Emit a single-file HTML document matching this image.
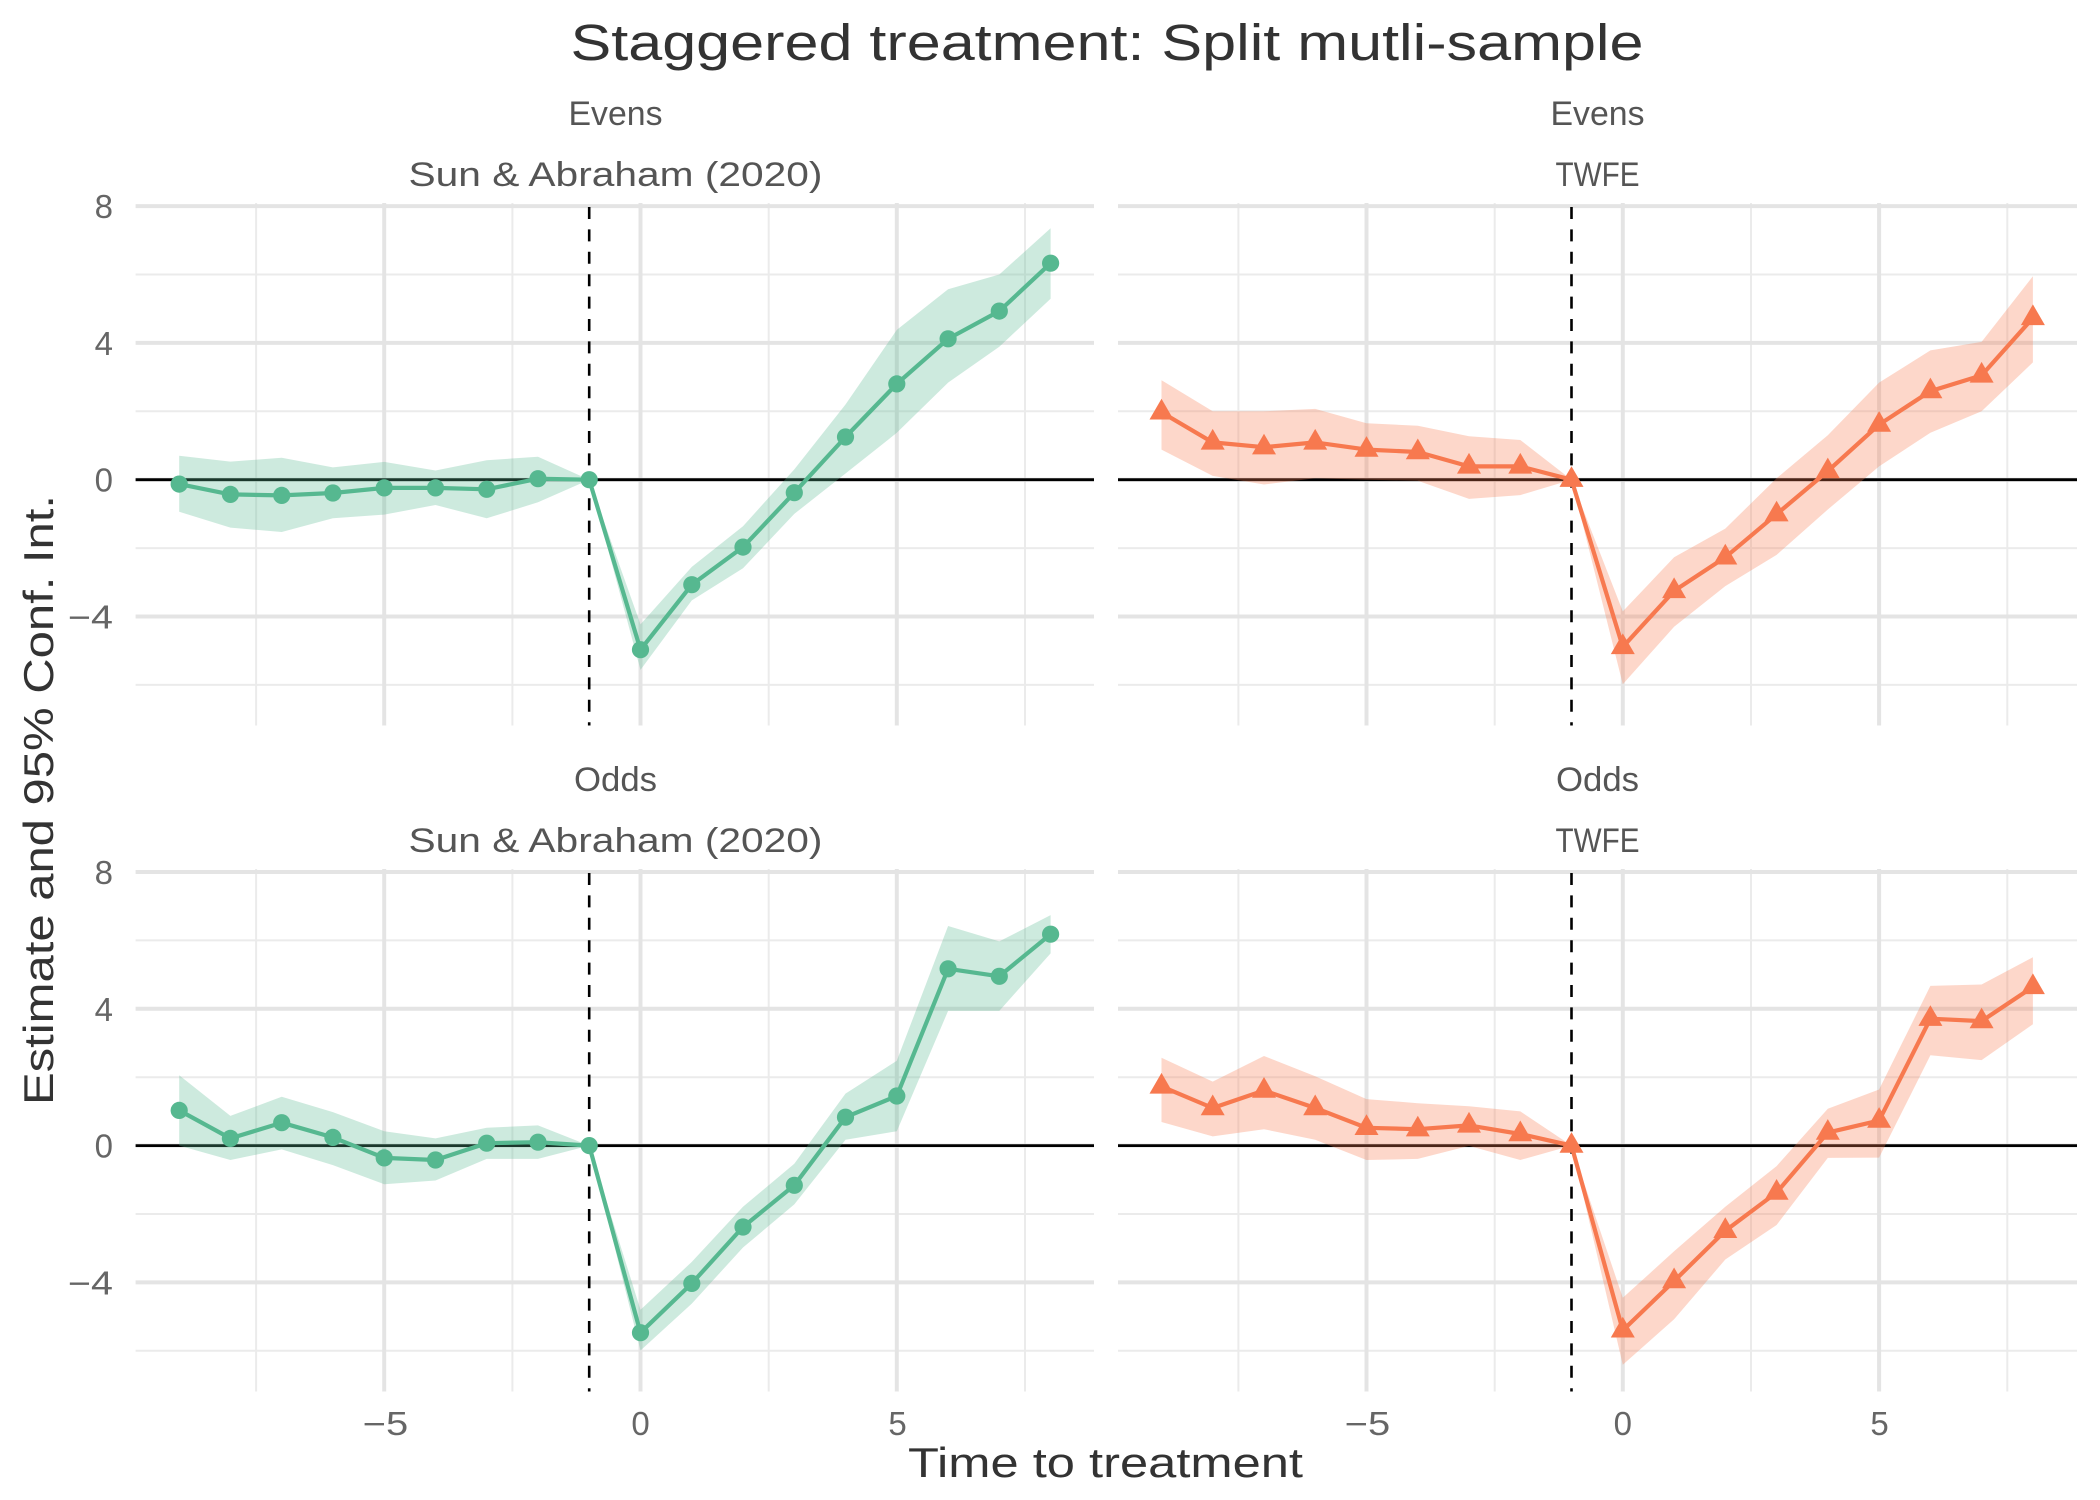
<!DOCTYPE html>
<html>
<head>
<meta charset="utf-8">
<style>
  html, body { margin: 0; padding: 0; background: #ffffff; }
  svg { display: block; }
  text { font-family: "Liberation Sans", "DejaVu Sans", sans-serif; }
</style>
</head>
<body>
<svg width="2100" height="1500" viewBox="0 0 2100 1500" xmlns="http://www.w3.org/2000/svg">
  <defs>
    <path id="tri" d="M0,-13.5 L12,7.2 L-12,7.2 Z"/>
  </defs>
  <rect x="0" y="0" width="2100" height="1500" fill="#ffffff"/>

  <!-- Title -->
  <text x="1107" y="60" font-size="51" fill="#333333" text-anchor="middle" textLength="1073" lengthAdjust="spacingAndGlyphs">Staggered treatment: Split mutli-sample</text>

  <!-- Strip labels -->
  <g font-size="34" fill="#555555" text-anchor="middle">
    <text x="615.5" y="125" textLength="94" lengthAdjust="spacingAndGlyphs">Evens</text>
    <text x="615.5" y="186" textLength="414" lengthAdjust="spacingAndGlyphs">Sun &amp; Abraham (2020)</text>
    <text x="1597.5" y="125" textLength="94" lengthAdjust="spacingAndGlyphs">Evens</text>
    <text x="1597.5" y="186" textLength="84" lengthAdjust="spacingAndGlyphs">TWFE</text>
    <text x="615.5" y="791" textLength="83" lengthAdjust="spacingAndGlyphs">Odds</text>
    <text x="615.5" y="852" textLength="414" lengthAdjust="spacingAndGlyphs">Sun &amp; Abraham (2020)</text>
    <text x="1597.5" y="791" textLength="83" lengthAdjust="spacingAndGlyphs">Odds</text>
    <text x="1597.5" y="852" textLength="84" lengthAdjust="spacingAndGlyphs">TWFE</text>
  </g>

  <!-- Gridlines: minor -->
  <g stroke="#ebebeb" stroke-width="2">
    <line x1="135.6" y1="274.5" x2="1094" y2="274.5"/>
    <line x1="135.6" y1="411.3" x2="1094" y2="411.3"/>
    <line x1="135.6" y1="548.1" x2="1094" y2="548.1"/>
    <line x1="135.6" y1="684.9" x2="1094" y2="684.9"/>
    <line x1="256.1" y1="203" x2="256.1" y2="725.5"/>
    <line x1="512.4" y1="203" x2="512.4" y2="725.5"/>
    <line x1="768.7" y1="203" x2="768.7" y2="725.5"/>
    <line x1="1025.0" y1="203" x2="1025.0" y2="725.5"/>
    <line x1="1118" y1="274.5" x2="2077" y2="274.5"/>
    <line x1="1118" y1="411.3" x2="2077" y2="411.3"/>
    <line x1="1118" y1="548.1" x2="2077" y2="548.1"/>
    <line x1="1118" y1="684.9" x2="2077" y2="684.9"/>
    <line x1="1238.4" y1="203" x2="1238.4" y2="725.5"/>
    <line x1="1494.7" y1="203" x2="1494.7" y2="725.5"/>
    <line x1="1751.0" y1="203" x2="1751.0" y2="725.5"/>
    <line x1="2007.3" y1="203" x2="2007.3" y2="725.5"/>
    <line x1="135.6" y1="940.4" x2="1094" y2="940.4"/>
    <line x1="135.6" y1="1077.2" x2="1094" y2="1077.2"/>
    <line x1="135.6" y1="1214.0" x2="1094" y2="1214.0"/>
    <line x1="135.6" y1="1350.8" x2="1094" y2="1350.8"/>
    <line x1="256.1" y1="869" x2="256.1" y2="1391.5"/>
    <line x1="512.4" y1="869" x2="512.4" y2="1391.5"/>
    <line x1="768.7" y1="869" x2="768.7" y2="1391.5"/>
    <line x1="1025.0" y1="869" x2="1025.0" y2="1391.5"/>
    <line x1="1118" y1="940.4" x2="2077" y2="940.4"/>
    <line x1="1118" y1="1077.2" x2="2077" y2="1077.2"/>
    <line x1="1118" y1="1214.0" x2="2077" y2="1214.0"/>
    <line x1="1118" y1="1350.8" x2="2077" y2="1350.8"/>
    <line x1="1238.4" y1="869" x2="1238.4" y2="1391.5"/>
    <line x1="1494.7" y1="869" x2="1494.7" y2="1391.5"/>
    <line x1="1751.0" y1="869" x2="1751.0" y2="1391.5"/>
    <line x1="2007.3" y1="869" x2="2007.3" y2="1391.5"/>
  </g>

  <!-- Gridlines: major -->
  <g stroke="#e4e4e4" stroke-width="4">
    <line x1="135.6" y1="206.1" x2="1094" y2="206.1"/>
    <line x1="135.6" y1="342.9" x2="1094" y2="342.9"/>
    <line x1="135.6" y1="479.7" x2="1094" y2="479.7"/>
    <line x1="135.6" y1="616.5" x2="1094" y2="616.5"/>
    <line x1="384.2" y1="203" x2="384.2" y2="725.5"/>
    <line x1="640.5" y1="203" x2="640.5" y2="725.5"/>
    <line x1="896.8" y1="203" x2="896.8" y2="725.5"/>
    <line x1="1118" y1="206.1" x2="2077" y2="206.1"/>
    <line x1="1118" y1="342.9" x2="2077" y2="342.9"/>
    <line x1="1118" y1="479.7" x2="2077" y2="479.7"/>
    <line x1="1118" y1="616.5" x2="2077" y2="616.5"/>
    <line x1="1366.5" y1="203" x2="1366.5" y2="725.5"/>
    <line x1="1622.8" y1="203" x2="1622.8" y2="725.5"/>
    <line x1="1879.1" y1="203" x2="1879.1" y2="725.5"/>
    <line x1="135.6" y1="872.0" x2="1094" y2="872.0"/>
    <line x1="135.6" y1="1008.8" x2="1094" y2="1008.8"/>
    <line x1="135.6" y1="1145.6" x2="1094" y2="1145.6"/>
    <line x1="135.6" y1="1282.4" x2="1094" y2="1282.4"/>
    <line x1="384.2" y1="869" x2="384.2" y2="1391.5"/>
    <line x1="640.5" y1="869" x2="640.5" y2="1391.5"/>
    <line x1="896.8" y1="869" x2="896.8" y2="1391.5"/>
    <line x1="1118" y1="872.0" x2="2077" y2="872.0"/>
    <line x1="1118" y1="1008.8" x2="2077" y2="1008.8"/>
    <line x1="1118" y1="1145.6" x2="2077" y2="1145.6"/>
    <line x1="1118" y1="1282.4" x2="2077" y2="1282.4"/>
    <line x1="1366.5" y1="869" x2="1366.5" y2="1391.5"/>
    <line x1="1622.8" y1="869" x2="1622.8" y2="1391.5"/>
    <line x1="1879.1" y1="869" x2="1879.1" y2="1391.5"/>
  </g>

  <!-- Zero lines and dashed treatment lines -->
  <g stroke="#000000" stroke-width="2.8">
    <line x1="135.6" y1="479.7" x2="1094" y2="479.7"/>
    <line x1="1118" y1="479.7" x2="2077" y2="479.7"/>
    <line x1="135.6" y1="1145.6" x2="1094" y2="1145.6"/>
    <line x1="1118" y1="1145.6" x2="2077" y2="1145.6"/>
  </g>
  <g stroke="#000000" stroke-width="2.6" stroke-dasharray="12,10.4">
    <line x1="589.2" y1="207" x2="589.2" y2="725.5"/>
    <line x1="1571.5" y1="207" x2="1571.5" y2="725.5"/>
    <line x1="589.2" y1="873" x2="589.2" y2="1391.5"/>
    <line x1="1571.5" y1="873" x2="1571.5" y2="1391.5"/>
  </g>

  <!-- Ribbons -->
  <polygon fill="#58b992" fill-opacity="0.3" points="179.2,455.8 230.4,461.6 281.7,457.8 332.9,467.4 384.2,461.9 435.5,470.5 486.7,460.2 538.0,456.8 589.2,479.7 640.5,624.4 691.8,566.9 743.0,526.2 794.3,469.4 845.5,404.5 896.8,329.9 948.1,289.2 999.3,274.5 1050.6,228.3 1050.6,298.8 999.3,346.7 948.1,382.6 896.8,432.8 845.5,473.5 794.3,513.9 743.0,568.3 691.8,600.4 640.5,669.9 589.2,479.7 538.0,502.3 486.7,518.3 435.5,505.0 384.2,514.6 332.9,518.3 281.7,532.0 230.4,527.6 179.2,511.8"/>
  <polygon fill="#f77950" fill-opacity="0.3" points="1161.5,380.2 1212.7,411.3 1264.0,411.3 1315.2,408.9 1366.5,423.3 1417.8,425.7 1469.0,436.3 1520.3,440.0 1571.5,479.7 1622.8,611.4 1674.1,557.3 1725.3,528.6 1776.6,478.3 1827.8,435.2 1879.1,382.6 1930.4,350.4 1981.6,341.9 2032.9,276.2 2032.9,362.4 1981.6,411.3 1930.4,432.8 1879.1,466.4 1827.8,509.5 1776.6,554.9 1725.3,586.1 1674.1,626.8 1622.8,684.2 1571.5,479.7 1520.3,495.1 1469.0,498.9 1417.8,480.7 1366.5,479.7 1315.2,478.3 1264.0,484.5 1212.7,475.9 1161.5,449.6"/>
  <polygon fill="#58b992" fill-opacity="0.3" points="179.2,1075.2 230.4,1115.9 281.7,1096.7 332.9,1112.1 384.2,1131.2 435.5,1138.4 486.7,1127.8 538.0,1125.4 589.2,1145.6 640.5,1309.8 691.8,1261.9 743.0,1206.8 794.3,1163.7 845.5,1093.6 896.8,1060.8 948.1,926.0 999.3,941.4 1050.6,915.1 1050.6,953.4 999.3,1010.9 948.1,1010.9 896.8,1131.2 845.5,1139.8 794.3,1204.4 743.0,1247.5 691.8,1303.6 640.5,1350.5 589.2,1145.6 538.0,1158.9 486.7,1158.9 435.5,1180.5 384.2,1184.2 332.9,1165.1 281.7,1149.4 230.4,1160.0 179.2,1145.6"/>
  <polygon fill="#f77950" fill-opacity="0.3" points="1161.5,1057.7 1212.7,1081.6 1264.0,1056.0 1315.2,1076.2 1366.5,1099.1 1417.8,1103.2 1469.0,1106.3 1520.3,1111.4 1571.5,1145.6 1622.8,1297.8 1674.1,1251.3 1725.3,1206.8 1776.6,1166.1 1827.8,1108.7 1879.1,1089.5 1930.4,985.9 1981.6,984.5 2032.9,957.2 2032.9,1024.2 1981.6,1060.1 1930.4,1055.3 1879.1,1157.6 1827.8,1157.9 1776.6,1225.0 1725.3,1259.5 1674.1,1319.3 1622.8,1364.8 1571.5,1145.6 1520.3,1160.0 1469.0,1145.9 1417.8,1158.9 1366.5,1160.0 1315.2,1139.8 1264.0,1129.2 1212.7,1136.4 1161.5,1122.0"/>

  <!-- Lines -->
  <g fill="none" stroke-width="4.2" stroke-linejoin="round" stroke-linecap="round">
    <polyline stroke="#56b890" points="179.2,484.1 230.4,494.4 281.7,495.4 332.9,493.0 384.2,487.9 435.5,487.9 486.7,489.3 538.0,478.7 589.2,479.7 640.5,649.7 691.8,584.7 743.0,547.1 794.3,492.7 845.5,437.0 896.8,383.9 948.1,338.8 999.3,311.1 1050.6,263.2"/>
    <polyline stroke="#f7794f" points="1161.5,412.3 1212.7,442.4 1264.0,447.2 1315.2,442.4 1366.5,449.6 1417.8,452.0 1469.0,466.4 1520.3,466.4 1571.5,479.7 1622.8,646.9 1674.1,590.9 1725.3,557.3 1776.6,514.2 1827.8,471.1 1879.1,424.6 1930.4,391.1 1981.6,375.4 2032.9,317.9"/>
    <polyline stroke="#56b890" points="179.2,1110.4 230.4,1138.4 281.7,1122.7 332.9,1137.4 384.2,1157.9 435.5,1160.0 486.7,1143.2 538.0,1142.2 589.2,1145.6 640.5,1332.7 691.8,1283.4 743.0,1227.0 794.3,1185.3 845.5,1117.2 896.8,1096.0 948.1,968.8 999.3,976.3 1050.6,934.2"/>
    <polyline stroke="#f7794f" points="1161.5,1086.4 1212.7,1108.0 1264.0,1090.5 1315.2,1108.0 1366.5,1127.8 1417.8,1129.2 1469.0,1125.4 1520.3,1134.0 1571.5,1145.6 1622.8,1330.3 1674.1,1281.0 1725.3,1230.8 1776.6,1192.5 1827.8,1132.6 1879.1,1120.6 1930.4,1018.7 1981.6,1021.1 2032.9,986.9"/>
  </g>

  <!-- Circle markers top-left -->
  <g fill="#56b890">
    <circle cx="179.2" cy="484.1" r="8.6"/>
    <circle cx="230.4" cy="494.4" r="8.6"/>
    <circle cx="281.7" cy="495.4" r="8.6"/>
    <circle cx="332.9" cy="493.0" r="8.6"/>
    <circle cx="384.2" cy="487.9" r="8.6"/>
    <circle cx="435.5" cy="487.9" r="8.6"/>
    <circle cx="486.7" cy="489.3" r="8.6"/>
    <circle cx="538.0" cy="478.7" r="8.6"/>
    <circle cx="589.2" cy="479.7" r="8.6"/>
    <circle cx="640.5" cy="649.7" r="8.6"/>
    <circle cx="691.8" cy="584.7" r="8.6"/>
    <circle cx="743.0" cy="547.1" r="8.6"/>
    <circle cx="794.3" cy="492.7" r="8.6"/>
    <circle cx="845.5" cy="437.0" r="8.6"/>
    <circle cx="896.8" cy="383.9" r="8.6"/>
    <circle cx="948.1" cy="338.8" r="8.6"/>
    <circle cx="999.3" cy="311.1" r="8.6"/>
    <circle cx="1050.6" cy="263.2" r="8.6"/>
  </g>
  <!-- Circle markers bottom-left -->
  <g fill="#56b890">
    <circle cx="179.2" cy="1110.4" r="8.6"/>
    <circle cx="230.4" cy="1138.4" r="8.6"/>
    <circle cx="281.7" cy="1122.7" r="8.6"/>
    <circle cx="332.9" cy="1137.4" r="8.6"/>
    <circle cx="384.2" cy="1157.9" r="8.6"/>
    <circle cx="435.5" cy="1160.0" r="8.6"/>
    <circle cx="486.7" cy="1143.2" r="8.6"/>
    <circle cx="538.0" cy="1142.2" r="8.6"/>
    <circle cx="589.2" cy="1145.6" r="8.6"/>
    <circle cx="640.5" cy="1332.7" r="8.6"/>
    <circle cx="691.8" cy="1283.4" r="8.6"/>
    <circle cx="743.0" cy="1227.0" r="8.6"/>
    <circle cx="794.3" cy="1185.3" r="8.6"/>
    <circle cx="845.5" cy="1117.2" r="8.6"/>
    <circle cx="896.8" cy="1096.0" r="8.6"/>
    <circle cx="948.1" cy="968.8" r="8.6"/>
    <circle cx="999.3" cy="976.3" r="8.6"/>
    <circle cx="1050.6" cy="934.2" r="8.6"/>
  </g>

  <!-- Triangle markers top-right -->
  <g fill="#f7794f">
    <use href="#tri" x="1161.5" y="412.3"/>
    <use href="#tri" x="1212.7" y="442.4"/>
    <use href="#tri" x="1264.0" y="447.2"/>
    <use href="#tri" x="1315.2" y="442.4"/>
    <use href="#tri" x="1366.5" y="449.6"/>
    <use href="#tri" x="1417.8" y="452.0"/>
    <use href="#tri" x="1469.0" y="466.4"/>
    <use href="#tri" x="1520.3" y="466.4"/>
    <use href="#tri" x="1571.5" y="479.7"/>
    <use href="#tri" x="1622.8" y="646.9"/>
    <use href="#tri" x="1674.1" y="590.9"/>
    <use href="#tri" x="1725.3" y="557.3"/>
    <use href="#tri" x="1776.6" y="514.2"/>
    <use href="#tri" x="1827.8" y="471.1"/>
    <use href="#tri" x="1879.1" y="424.6"/>
    <use href="#tri" x="1930.4" y="391.1"/>
    <use href="#tri" x="1981.6" y="375.4"/>
    <use href="#tri" x="2032.9" y="317.9"/>
  </g>
  <!-- Triangle markers bottom-right -->
  <g fill="#f7794f">
    <use href="#tri" x="1161.5" y="1086.4"/>
    <use href="#tri" x="1212.7" y="1108.0"/>
    <use href="#tri" x="1264.0" y="1090.5"/>
    <use href="#tri" x="1315.2" y="1108.0"/>
    <use href="#tri" x="1366.5" y="1127.8"/>
    <use href="#tri" x="1417.8" y="1129.2"/>
    <use href="#tri" x="1469.0" y="1125.4"/>
    <use href="#tri" x="1520.3" y="1134.0"/>
    <use href="#tri" x="1571.5" y="1145.6"/>
    <use href="#tri" x="1622.8" y="1330.3"/>
    <use href="#tri" x="1674.1" y="1281.0"/>
    <use href="#tri" x="1725.3" y="1230.8"/>
    <use href="#tri" x="1776.6" y="1192.5"/>
    <use href="#tri" x="1827.8" y="1132.6"/>
    <use href="#tri" x="1879.1" y="1120.6"/>
    <use href="#tri" x="1930.4" y="1018.7"/>
    <use href="#tri" x="1981.6" y="1021.1"/>
    <use href="#tri" x="2032.9" y="986.9"/>
  </g>

  <!-- Y tick labels -->
  <g font-size="33" fill="#666666" text-anchor="end">
    <text x="113" y="218">8</text>
    <text x="113" y="355">4</text>
    <text x="113" y="491.5">0</text>
    <text x="113" y="628.5" textLength="45" lengthAdjust="spacingAndGlyphs">−4</text>
    <text x="113" y="884">8</text>
    <text x="113" y="1021">4</text>
    <text x="113" y="1157.5">0</text>
    <text x="113" y="1294.5" textLength="45" lengthAdjust="spacingAndGlyphs">−4</text>
  </g>

  <!-- X tick labels -->
  <g font-size="33" fill="#666666" text-anchor="middle">
    <text x="385.5" y="1435" textLength="45.5" lengthAdjust="spacingAndGlyphs">−5</text>
    <text x="640.5" y="1435">0</text>
    <text x="897.5" y="1435">5</text>
    <text x="1367.5" y="1435" textLength="45.5" lengthAdjust="spacingAndGlyphs">−5</text>
    <text x="1622.8" y="1435">0</text>
    <text x="1879.5" y="1435">5</text>
  </g>

  <!-- Axis titles -->
  <text x="1105.5" y="1477" font-size="42" fill="#333333" text-anchor="middle" textLength="395" lengthAdjust="spacingAndGlyphs">Time to treatment</text>
  <text x="0" y="0" font-size="42" fill="#333333" text-anchor="middle" textLength="610" lengthAdjust="spacingAndGlyphs" transform="translate(53,800) rotate(-90)">Estimate and 95% Conf. Int.</text>
</svg>
</body>
</html>
